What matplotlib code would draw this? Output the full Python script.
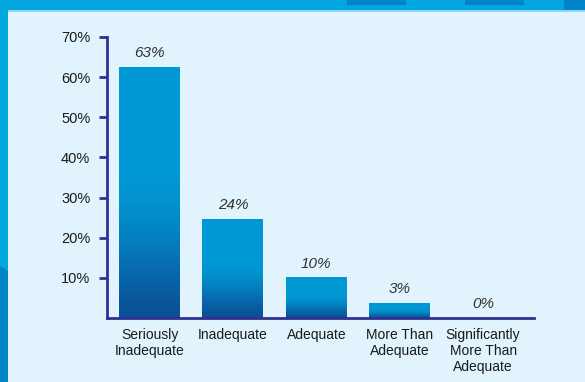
import numpy as np
import matplotlib.pyplot as plt
from matplotlib.patches import Rectangle, Polygon

# data
categories = ["Seriously\nInadequate", "Inadequate", "Adequate",
              "More Than\nAdequate", "Significantly\nMore Than\nAdequate"]
values = [62.6, 24.7, 10.1, 3.8, 0.0]
value_labels = ["63%", "24%", "10%", "3%", "0%"]
yticks = [10, 20, 30, 40, 50, 60, 70]
ytick_labels = ["10%", "20%", "30%", "40%", "50%", "60%", "70%"]

plt.rcParams['font.family'] = ['Liberation Sans', 'DejaVu Sans']

W, H = 585, 382
fig = plt.figure(figsize=(W / 100, H / 100), dpi=100)
fig.patch.set_facecolor('#e1f3fc')


def px_rect(x, y, w, h, color):
    # rectangle given in pixels, y measured from the top
    r = Rectangle((x / W, 1 - (y + h) / H), w / W, h / H,
                  transform=fig.transFigure, facecolor=color,
                  edgecolor='none', zorder=0)
    fig.patches.append(r)


# frame around the panel
px_rect(0, 0, W, 10, '#00a6dd')
px_rect(0, 10, W, 1.5, '#8fd6f2')
px_rect(347, 0, 59, 5, '#0084c9')
px_rect(465, 0, 59, 5, '#0084c9')
px_rect(564, 0, 21, 10, '#0084c9')
px_rect(0, 10, 8, H - 10, '#00a6dd')
fig.patches.append(Polygon([(0, 1 - 266 / H), (8 / W, 1 - 271 / H), (8 / W, 0), (0, 0)],
                           closed=True, transform=fig.transFigure,
                           facecolor='#0084c8', edgecolor='none', zorder=0))

# axes placed to match pixel positions of the reference
ax = fig.add_axes([107 / W, 64 / H, 427 / W, 281 / H])
ax.set_facecolor('none')

x = np.arange(len(categories))
bar_w = 0.73
bars = ax.bar(x, values, width=bar_w, color='#0098d4', zorder=2)

# smooth vertical gradient in the lower part of each bar, drawn as thin slices
top = np.array([0x00, 0x98, 0xd4]) / 255
bot = np.array([0x0b, 0x4d, 0x94]) / 255
n = 120
edges = np.linspace(0, 1, n + 1)
mid = (edges[:-1] + edges[1:]) / 2          # 0 = bottom, 1 = top
s = np.clip((0.6 - mid) / 0.6, 0, 1)
mix = s * s * (3 - 2 * s) * 0.5 + s ** 2 * 0.5
cols = top * (1 - mix[:, None]) + bot * mix[:, None]
for xi, v in zip(x, values):
    if v <= 0:
        continue
    ax.bar(np.full(n, xi), np.diff(edges) * v * 1.01, bottom=edges[:-1] * v,
           width=bar_w, color=cols, linewidth=0, zorder=3)

for xi, v, lab in zip(x, values, value_labels):
    ax.annotate(lab, (xi, v), xytext=(0, 5), textcoords='offset points',
                ha='center', va='bottom', fontsize=11, style='italic',
                color='#333333')

ax.set_xlim(-0.51, 4.61)
ax.set_ylim(0, 70)
ax.set_xticks(x)
ax.set_xticklabels(categories, fontsize=10, color='#1a1a1a')
ax.set_yticks(yticks)
ax.set_yticklabels(ytick_labels, fontsize=10.5, color='#1a1a1a')

axis_color = '#2e3192'
for sp in ['top', 'right']:
    ax.spines[sp].set_visible(False)
for sp in ['left', 'bottom']:
    ax.spines[sp].set_color(axis_color)
    ax.spines[sp].set_linewidth(2)
    ax.spines[sp].set_zorder(4)
ax.tick_params(axis='y', direction='out', length=6, width=2,
               color=axis_color, pad=6)
ax.tick_params(axis='x', length=0, pad=7)

fig.savefig('out.png', dpi=100, facecolor=fig.get_facecolor())
